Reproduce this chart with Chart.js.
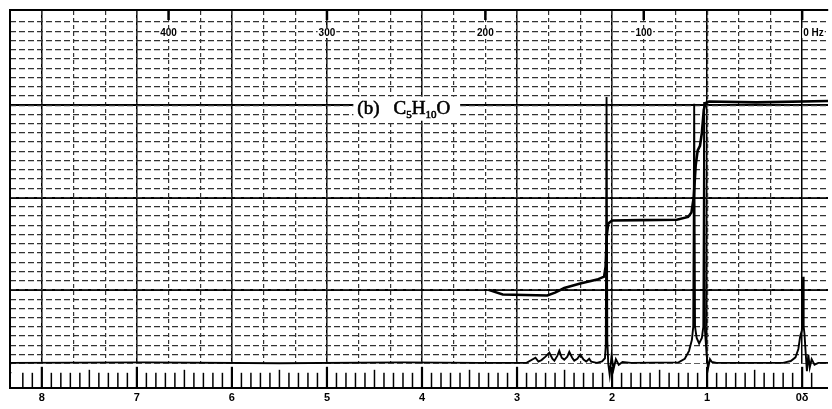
<!DOCTYPE html>
<html>
<head>
<meta charset="utf-8">
<script src="https://cdn.jsdelivr.net/npm/chart.js@4.4.1/dist/chart.umd.min.js"></script>
<style>
    html, body { margin: 0; padding: 0; background: #fff; }
    #wrap { width: 832px; height: 409px; position: relative; }
</style>
</head>
<body>
<div id="wrap"><canvas id="nmr"></canvas></div>
<script>
// 60 MHz proton spectrum of C5H10O, chart paper style
const MHZ = 60;
const PPM_MIN = -0.272;
const PPM_MAX = 8.335;
const Y_MIN = -0.6;
const Y_MAX = 40.3;
const RULER_TOP = 2.0;

// spectrum trace: shift (ppm) and pen height
const spectrumPpm = [8.335, 6.9, 5.5, 4.2, 3.4, 2.90, 2.806, 2.775, 2.743, 2.70, 2.660, 2.628, 2.607, 2.575, 2.555, 2.53, 2.503, 2.471, 2.450, 2.42, 2.398, 2.366, 2.335, 2.30, 2.272, 2.241, 2.22, 2.16, 2.105, 2.075, 2.066, 2.058, 2.050, 2.040, 2.025, 2.005, 1.985, 1.96, 1.93, 1.89, 1.80, 1.30, 1.235, 1.19, 1.16, 1.146, 1.136, 1.127, 1.11, 1.084, 1.055, 1.040, 1.031, 1.022, 1.005, 0.99, 0.97, 0.95, 0.90, 0.20, 0.12, 0.07, 0.04, 0.02, 0.003, -0.004, -0.01, -0.016, -0.025, -0.035, -0.05, -0.065, -0.08, -0.10, -0.13, -0.17, -0.272];
const spectrumInt = [2.1, 2.15, 2.05, 2.15, 2.1, 2.1, 2.66, 2.24, 2.4, 2.77, 3.2, 2.55, 2.34, 2.88, 3.41, 2.66, 2.45, 2.77, 3.30, 2.66, 2.34, 2.55, 2.98, 2.45, 2.24, 2.55, 2.24, 2.1, 2.25, 2.6, 4.0, 30.89, 4.5, 2.0, 0.8, 2.9, 1.4, 2.5, 1.9, 2.2, 2.1, 2.15, 2.55, 3.4, 4.6, 6.0, 30.14, 6.0, 4.8, 4.2, 4.8, 6.0, 30.35, 5.5, 3.0, 1.5, 2.5, 2.2, 2.1, 2.1, 2.3, 2.7, 3.6, 5.0, 5.6, 7.0, 11.43, 6.0, 5.2, 3.5, 1.2, 3.0, 1.6, 2.5, 1.9, 2.1, 2.1];

// integral trace
const integralPpm = [3.30, 3.15, 2.681, 2.60, 2.503, 2.335, 2.157, 2.084, 2.068, 2.055, 2.040, 2.0, 1.7, 1.319, 1.20, 1.165, 1.141, 1.12, 1.099, 1.075, 1.055, 1.035, 1.015, 0.98, 0.482, -0.272];
const integralInt = [10.0, 9.5, 9.4, 9.7, 10.2, 10.68, 11.11, 11.43, 12.5, 16.0, 17.2, 17.52, 17.55, 17.6, 17.9, 18.38, 20.0, 23.5, 25.1, 25.6, 27.0, 29.5, 30.25, 30.4, 30.3, 30.45];

// top frequency scale
const hzTicks = [400, 300, 200, 100, 0];
const hzLabels = ['400', '300', '200', '100', '0 Hz'];

// heavy rows of the paper
const majorRows = [10, 20, 30];

// sample label
const titleParts = ['(b)', 'C', '5', 'H', '10', 'O'];
const titleSub = [false, false, true, false, true, false];
const TITLE_PPM = 4.68;
const TITLE_Y = 29.07;

function isWhole(v) {
    return Math.abs(v - Math.round(v)) < 1e-6;
}

function toPoints(xs, ys) {
    return xs.map((x, i) => ({ x: x, y: ys[i] }));
}

const clear = 'rgba(0,0,0,0)';
const paperGrid = '#333';

// Paper background, ruler band, frequency scale and label
const paperPlugin = {
    id: 'paper',
    beforeDraw(chart) {
        const ctx = chart.ctx;
        ctx.save();
        ctx.fillStyle = '#fff';
        ctx.fillRect(0, 0, chart.width, chart.height);
        ctx.restore();
    },
    beforeDatasetsDraw(chart) {
        const ctx = chart.ctx;
        const ca = chart.chartArea;
        const xs = chart.scales.x;
        const ys = chart.scales.y;
        const hz = chart.scales.hz;

        ctx.save();
        // ruler band under the baseline
        const bandTop = ys.getPixelForValue(RULER_TOP);
        ctx.fillStyle = '#fff';
        ctx.fillRect(ca.left + 1.5, bandTop, ca.right - ca.left, ca.bottom - 1.5 - bandTop);

        ctx.strokeStyle = '#000';
        xs.ticks.forEach(t => {
            const v = t.value;
            if (!isWhole(v * 10)) return;
            const px = xs.getPixelForValue(v);
            const whole = isWhole(v);
            const half = isWhole(v * 2);
            const len = whole ? 21 : (half ? 18 : 15);
            ctx.lineWidth = whole ? 2.2 : 1.5;
            ctx.beginPath();
            ctx.moveTo(px, ca.bottom);
            ctx.lineTo(px, ca.bottom - len);
            ctx.stroke();
        });

        // Hz scale along the top
        ctx.font = 'bold 10px "Liberation Sans"';
        ctx.textBaseline = 'middle';
        hzTicks.forEach((v, i) => {
            const px = hz.getPixelForValue(v);
            ctx.lineWidth = 2.5;
            ctx.beginPath();
            ctx.moveTo(px, ca.top);
            ctx.lineTo(px, ca.top + 10);
            ctx.stroke();
            const label = hzLabels[i];
            const w = ctx.measureText(label).width;
            const lx = (i === hzTicks.length - 1) ? px + 1 : px - w / 2;
            ctx.fillStyle = '#fff';
            ctx.fillRect(lx - 1, ca.top + 18, w + 2, 10);
            ctx.fillStyle = '#000';
            ctx.textAlign = 'left';
            ctx.fillText(label, lx, ca.top + 23);
        });

        // sample label with subscripts
        const big = '19px "Liberation Serif"';
        const small = '11px "Liberation Serif"';
        let tx = xs.getPixelForValue(TITLE_PPM);
        const base = ys.getPixelForValue(TITLE_Y);
        const widths = titleParts.map((p, i) => {
            ctx.font = titleSub[i] ? small : big;
            return ctx.measureText(p).width + (i === 0 ? 14 : 0);
        });
        const total = widths.reduce((a, b) => a + b, 0);
        ctx.fillStyle = '#fff';
        ctx.fillRect(tx - 4, base - 17, total + 14, 24);
        ctx.fillStyle = '#000';
        ctx.strokeStyle = '#000';
        ctx.lineWidth = 0.6;
        ctx.textAlign = 'left';
        ctx.textBaseline = 'alphabetic';
        titleParts.forEach((p, i) => {
            ctx.font = titleSub[i] ? small : big;
            const ty = base + (titleSub[i] ? 4 : 0);
            ctx.fillText(p, tx, ty);
            ctx.strokeText(p, tx, ty);
            tx += widths[i];
        });
        ctx.restore();
    }
};

const chart = new Chart(document.getElementById('nmr'), {
    type: 'line',
    data: {
        datasets: [
            {
                label: 'spectrum',
                data: toPoints(spectrumPpm, spectrumInt),
                borderColor: '#000',
                borderWidth: 1.9,
                pointRadius: 0,
                tension: 0,
                xAxisID: 'x',
                yAxisID: 'y'
            },
            {
                label: 'integral',
                data: toPoints(integralPpm, integralInt),
                borderColor: '#000',
                borderWidth: 2.6,
                pointRadius: 0,
                tension: 0,
                xAxisID: 'x',
                yAxisID: 'y'
            }
        ]
    },
    options: {
        responsive: true,
        maintainAspectRatio: false,
        animation: false,
        devicePixelRatio: 1,
        layout: { padding: { left: 10, top: 10, right: 0, bottom: 0 } },
        plugins: {
            legend: { display: false },
            tooltip: { enabled: false }
        },
        scales: {
            x: {
                type: 'linear',
                position: 'bottom',
                min: PPM_MIN,
                max: PPM_MAX,
                reverse: true,
                ticks: {
                    stepSize: 0.1,
                    autoSkip: false,
                    maxRotation: 0,
                    minRotation: 0,
                    padding: 4,
                    color: '#000',
                    font: { family: '"Liberation Sans"', size: 11, weight: 'bold' },
                    callback: function(value) {
                        if (!isWhole(value)) return '';
                        const n = Math.round(value);
                        return n === 0 ? '0δ' : String(n);
                    }
                },
                grid: {
                    drawTicks: false,
                    color: c => (c.tick && isWhole(c.tick.value)) ? '#000' : clear,
                    lineWidth: c => (c.tick && isWhole(c.tick.value)) ? 1.5 : 0
                },
                border: { display: true, color: '#000', width: 2 }
            },
            hz: {
                type: 'linear',
                position: 'top',
                min: PPM_MIN * MHZ,
                max: PPM_MAX * MHZ,
                reverse: true,
                ticks: { display: false, stepSize: 20 },
                grid: {
                    drawTicks: false,
                    color: c => (c.tick && isWhole(c.tick.value / 20)) ? paperGrid : clear,
                    lineWidth: 1.2
                },
                border: { display: true, color: '#000', width: 2, dash: [4, 3] }
            },
            y: {
                type: 'linear',
                position: 'left',
                min: Y_MIN,
                max: Y_MAX,
                ticks: { display: false, stepSize: 10 },
                grid: {
                    drawTicks: false,
                    color: c => (c.tick && majorRows.includes(Math.round(c.tick.value * 100) / 100)) ? '#000' : clear,
                    lineWidth: 2
                },
                border: { display: true, color: '#000', width: 2 }
            },
            yg: {
                type: 'linear',
                position: 'left',
                min: Y_MIN,
                max: Y_MAX,
                ticks: { display: false, stepSize: 1 },
                grid: {
                    drawTicks: false,
                    color: c => (c.tick && isWhole(c.tick.value)) ? paperGrid : clear,
                    lineWidth: 1.2
                },
                border: { display: false, dash: [6, 3] }
            }
        }
    },
    plugins: [paperPlugin]
});
</script>
</body>
</html>
